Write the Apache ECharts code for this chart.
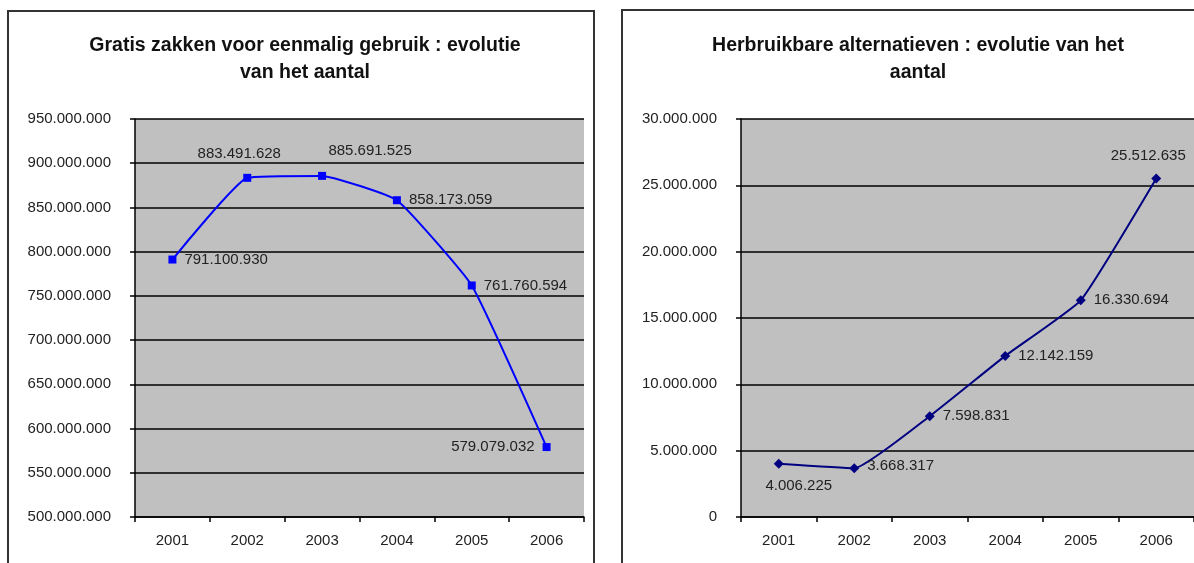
<!DOCTYPE html>
<html>
<head>
<meta charset="utf-8">
<script src="https://cdn.jsdelivr.net/npm/echarts@6/dist/echarts.min.js"></script>
<style>
  html, body { margin: 0; padding: 0; background: #fff; }
  #chart { width: 1194px; height: 563px; }
</style>
</head>
<body>
<div id="chart"></div>
<script>
// ---- data ----
var years = ['2001', '2002', '2003', '2004', '2005', '2006'];
var disposableBags = [791100930, 883491628, 885691525, 858173059, 761760594, 579079032];
var reusableAlternatives = [4006225, 3668317, 7598831, 12142159, 16330694, 25512635];
var titleLeft = 'Gratis zakken voor eenmalig gebruik : evolutie\nvan het aantal';
var titleRight = 'Herbruikbare alternatieven : evolutie van het\naantal';

// label placement per point (style only)
var leftLabelPos = ['right', 'top', 'top', 'right', 'right', 'left'];
var leftLabelOffset = [[0, 0], [-8, -4], [48, -6], [0, 0], [0, 0], [0, 0]];
var rightLabelPos = ['bottom', 'right', 'right', 'right', 'right', 'top'];
var rightLabelOffset = [[20, 2], [0, -2], [0, 0], [0, 0], [0, 0], [-8, -2]];

function fmt(v) {
  return String(Math.round(v)).replace(/\B(?=(\d{3})+(?!\d))/g, '.');
}

var FONT = '"Liberation Sans", Arial, sans-serif';
var TXT = '#222';

function buildData(values, pos, off) {
  return values.map(function (v, i) {
    return {
      value: v,
      label: { position: pos[i], offset: off[i] }
    };
  });
}

function yAxis(gridIndex, min, max, interval) {
  return {
    type: 'value', gridIndex: gridIndex, min: min, max: max, interval: interval,
    axisLine: { show: true, lineStyle: { color: '#000', width: 1.5 } },
    axisTick: { show: true, length: 5, lineStyle: { color: '#000', width: 1.5 } },
    splitLine: { show: true, lineStyle: { color: '#000', width: 1.6 } },
    axisLabel: { color: TXT, fontSize: 15, fontFamily: FONT, margin: 24, formatter: fmt }
  };
}

function xAxis(gridIndex) {
  return {
    type: 'category', gridIndex: gridIndex, data: years, boundaryGap: true,
    axisLine: { show: true, lineStyle: { color: '#000', width: 1.5 } },
    axisTick: { show: true, length: 5, alignWithLabel: false, lineStyle: { color: '#000', width: 1.5 } },
    splitLine: { show: false },
    axisLabel: { color: TXT, fontSize: 15, fontFamily: FONT, margin: 16 }
  };
}

var chart = echarts.init(document.getElementById('chart'), null, { renderer: 'canvas' });
chart.setOption({
  animation: false,
  backgroundColor: '#ffffff',
  graphic: [
    { type: 'rect', shape: { x: 8, y: 11, width: 586, height: 620 },
      style: { fill: 'none', stroke: '#333', lineWidth: 2 }, z: 100 },
    { type: 'rect', shape: { x: 622, y: 10, width: 620, height: 620 },
      style: { fill: 'none', stroke: '#333', lineWidth: 2 }, z: 100 }
  ],
  title: [
    { text: titleLeft, left: 300, top: 27, textAlign: 'center',
      textStyle: { fontFamily: FONT, fontSize: 19.5, fontWeight: 'bold', color: '#111', lineHeight: 27 } },
    { text: titleRight, left: 913, top: 27, textAlign: 'center',
      textStyle: { fontFamily: FONT, fontSize: 19.5, fontWeight: 'bold', color: '#111', lineHeight: 27 } }
  ],
  grid: [
    { left: 135, top: 119, width: 449, height: 398, show: true, backgroundColor: '#c0c0c0', borderWidth: 0 },
    { left: 741, top: 119, width: 456, height: 398, show: true, backgroundColor: '#c0c0c0', borderWidth: 0 }
  ],
  xAxis: [xAxis(0), xAxis(1)],
  yAxis: [yAxis(0, 500000000, 950000000, 50000000), yAxis(1, 0, 30000000, 5000000)],
  series: [
    {
      type: 'line', xAxisIndex: 0, yAxisIndex: 0,
      data: buildData(disposableBags, leftLabelPos, leftLabelOffset),
      smooth: 0.12,
      symbol: 'rect', symbolSize: 8,
      lineStyle: { color: '#0000ff', width: 2 },
      itemStyle: { color: '#0000ff' },
      label: { show: true, color: TXT, fontSize: 15, fontFamily: FONT, distance: 8,
        formatter: function (p) { return fmt(p.value); } },
      z: 5
    },
    {
      type: 'line', xAxisIndex: 1, yAxisIndex: 1,
      data: buildData(reusableAlternatives, rightLabelPos, rightLabelOffset),
      smooth: 0.12,
      symbol: 'diamond', symbolSize: 10,
      lineStyle: { color: '#000080', width: 2 },
      itemStyle: { color: '#000080' },
      label: { show: true, color: TXT, fontSize: 15, fontFamily: FONT, distance: 8,
        formatter: function (p) { return fmt(p.value); } },
      z: 5
    }
  ]
});
</script>
</body>
</html>
